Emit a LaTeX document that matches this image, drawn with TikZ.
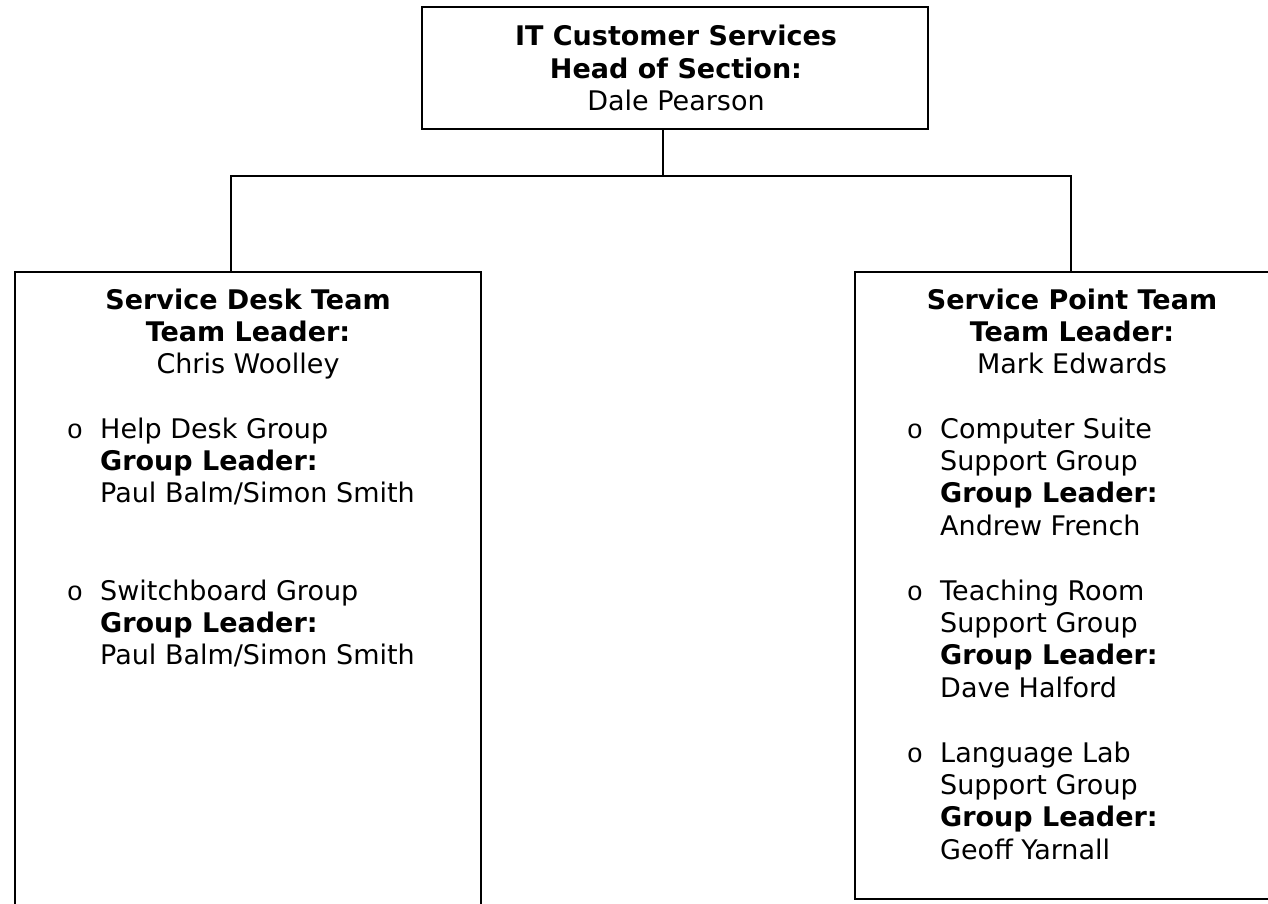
\documentclass[tikz,border=0pt]{standalone}
\usepackage{fontspec}
\setmainfont{DejaVu Sans}
\newfontfamily\bulletfont{Liberation Mono}
\usetikzlibrary{positioning}

\begin{document}
\begin{tikzpicture}[x=1pt, y=-1pt]
			\tikzstyle{Box}		= [rectangle, draw, line width=1.8pt, inner sep=0pt]
			\tikzstyle{Head}	= [align=center, anchor=base, inner sep=0pt, font=\fontsize{27}{32.4}\selectfont]
			\tikzstyle{Item}	= [align=left, anchor=base west, inner sep=0pt, font=\fontsize{27}{32.4}\selectfont]
			\tikzstyle{Bullet}	= [anchor=base, inner sep=0pt, font=\bulletfont\fontsize{27}{32.4}\selectfont]
			\tikzstyle{Link}	= [line width=1.6pt]

			\useasboundingbox (0,0) rectangle (1268,904);
			\clip (0,0) rectangle (1268,904);

			% boxes
			\node (head) at (675,68) [Box, minimum width=506pt, minimum height=122pt] {};
			\node (desk) at (248,593.5) [Box, minimum width=466pt, minimum height=643pt] {};
			\node (point) at (1071,585.5) [Box, minimum width=432pt, minimum height=627pt] {};

			% connectors
			\coordinate (hub) at (663,176);
			\coordinate (deskin) at (231,272);
			\draw [-] (hub |- head.south) to (hub) [Link];
			\draw [-] (deskin) |- (hub) -| (point.north) [Link];

			% titles (base = last line)
			\node (headtxt) at (676,110.8) [Head] {\textbf{IT Customer Services}\\\textbf{Head of Section:}\\Dale Pearson};
			\node (desktxt) at (248,373.8) [Head] {\textbf{Service Desk Team}\\\textbf{Team Leader:}\\Chris Woolley};
			\node (pointtxt) at (1072,373.8) [Head] {\textbf{Service Point Team}\\\textbf{Team Leader:}\\Mark Edwards};

			% service desk groups
			\node (b1) at (75,438) [Bullet] {o};
			\node (helpdesk) at (100,502.8) [Item] {Help Desk Group\\\textbf{Group Leader:}\\Paul Balm/Simon Smith};
			\node (b2) at (75,600) [Bullet] {o};
			\node (switchboard) at (100,664.8) [Item] {Switchboard Group\\\textbf{Group Leader:}\\Paul Balm/Simon Smith};

			% service point groups
			\node (b3) at (915,438) [Bullet] {o};
			\node (suite) at (940,535.2) [Item] {Computer Suite\\Support Group\\\textbf{Group Leader:}\\Andrew French};
			\node (b4) at (915,600) [Bullet] {o};
			\node (teaching) at (940,697.2) [Item] {Teaching Room\\Support Group\\\textbf{Group Leader:}\\Dave Halford};
			\node (b5) at (915,762) [Bullet] {o};
			\node (lab) at (940,859.2) [Item] {Language Lab\\Support Group\\\textbf{Group Leader:}\\Geoff Yarnall};
\end{tikzpicture}
\end{document}
